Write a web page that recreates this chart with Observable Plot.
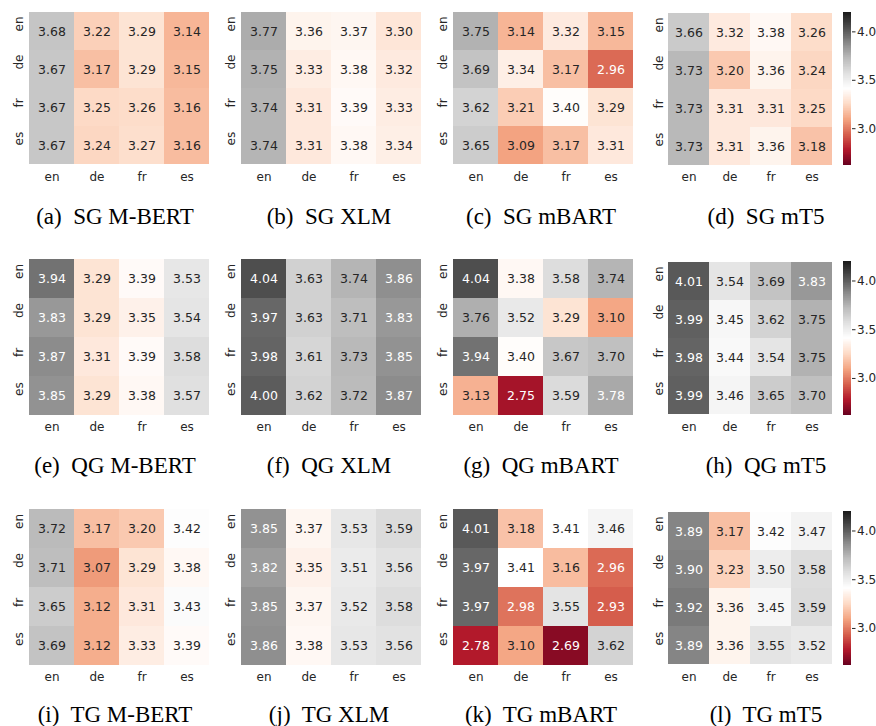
<!DOCTYPE html>
<html>
<head>
<meta charset="utf-8">
<script src="https://cdn.jsdelivr.net/npm/d3@7"></script>
<script src="https://cdn.jsdelivr.net/npm/@observablehq/plot@0.6"></script>
<style>
  html, body { margin: 0; padding: 0; background: #fff; }
  #root { position: relative; width: 876px; height: 726px; overflow: hidden; background: #fff; }
  #root svg { position: absolute; display: block; max-width: none; background: transparent; }
  .cap { position: absolute; font-family: "Liberation Serif", "Times New Roman", serif; font-size: 23px; line-height: 23px; color: #000; white-space: pre; transform: translateX(-50%); }
</style>
</head>
<body>
<div id="root"></div>
<script>
// ---------- data ----------
const langs = ["en", "de", "fr", "es"];        // rows (y) and columns (x)
const tasks = ["SG", "QG", "TG"];
const models = ["M-BERT", "XLM", "mBART", "mT5"];
const letters = ["a","b","c","d","e","f","g","h","i","j","k","l"];
const cbTicks = [3.0, 3.5, 4.0];
const colorDomain = [2.62, 4.20];

const sgMBert = [[3.68,3.22,3.29,3.14],[3.67,3.17,3.29,3.15],[3.67,3.25,3.26,3.16],[3.67,3.24,3.27,3.16]];
const sgXlm   = [[3.77,3.36,3.37,3.30],[3.75,3.33,3.38,3.32],[3.74,3.31,3.39,3.33],[3.74,3.31,3.38,3.34]];
const sgMBart = [[3.75,3.14,3.32,3.15],[3.69,3.34,3.17,2.96],[3.62,3.21,3.40,3.29],[3.65,3.09,3.17,3.31]];
const sgMt5   = [[3.66,3.32,3.38,3.26],[3.73,3.20,3.36,3.24],[3.73,3.31,3.31,3.25],[3.73,3.31,3.36,3.18]];
const qgMBert = [[3.94,3.29,3.39,3.53],[3.83,3.29,3.35,3.54],[3.87,3.31,3.39,3.58],[3.85,3.29,3.38,3.57]];
const qgXlm   = [[4.04,3.63,3.74,3.86],[3.97,3.63,3.71,3.83],[3.98,3.61,3.73,3.85],[4.00,3.62,3.72,3.87]];
const qgMBart = [[4.04,3.38,3.58,3.74],[3.76,3.52,3.29,3.10],[3.94,3.40,3.67,3.70],[3.13,2.75,3.59,3.78]];
const qgMt5   = [[4.01,3.54,3.69,3.83],[3.99,3.45,3.62,3.75],[3.98,3.44,3.54,3.75],[3.99,3.46,3.65,3.70]];
const tgMBert = [[3.72,3.17,3.20,3.42],[3.71,3.07,3.29,3.38],[3.65,3.12,3.31,3.43],[3.69,3.12,3.33,3.39]];
const tgXlm   = [[3.85,3.37,3.53,3.59],[3.82,3.35,3.51,3.56],[3.85,3.37,3.52,3.58],[3.86,3.38,3.53,3.56]];
const tgMBart = [[4.01,3.18,3.41,3.46],[3.97,3.41,3.16,2.96],[3.97,2.98,3.55,2.93],[2.78,3.10,2.69,3.62]];
const tgMt5   = [[3.89,3.17,3.42,3.47],[3.90,3.23,3.50,3.58],[3.92,3.36,3.45,3.59],[3.89,3.36,3.55,3.52]];

const panels = [
  [sgMBert, sgXlm, sgMBart, sgMt5],
  [qgMBert, qgXlm, qgMBart, qgMt5],
  [tgMBert, tgXlm, tgMBart, tgMt5]
];

// ---------- layout ----------
const colLeft = [27, 239, 451, 667];
const colWidth = [183, 183, 183, 166];
const capCenter = [115, 329, 541, 766];
const rowTop = [10, 259, 509];
const rowHeight = [155, 156, 156];
const capBaseline = [224, 473, 722];
const ML = 26, MR = 2, MT = 2, MB = 24;

const colorOpts = {
  type: "linear",
  domain: colorDomain,
  interpolate: d3.piecewise(d3.interpolateRgb, d3.schemeRdGy[11])
};
const colorScale = Plot.scale({color: colorOpts});
function luminance(c) {
  const rgb = d3.rgb(c);
  const f = v => { v /= 255; return v <= 0.03928 ? v / 12.92 : Math.pow((v + 0.055) / 1.055, 2.4); };
  return 0.2126 * f(rgb.r) + 0.7152 * f(rgb.g) + 0.0722 * f(rgb.b);
}
const isDark = v => luminance(colorScale.apply(v)) <= 0.408;

const root = document.getElementById("root");
const font = "DejaVu Sans, sans-serif";

function heatmap(values, w, h) {
  const data = [];
  values.forEach((row, i) => row.forEach((v, j) => data.push({row: langs[i], col: langs[j], v})));
  return Plot.plot({
    width: w + ML + MR, height: h + MT + MB,
    marginLeft: ML, marginRight: MR, marginTop: MT, marginBottom: MB,
    x: {domain: langs, padding: 0, axis: null, label: null},
    y: {domain: langs, padding: 0, axis: null, label: null},
    color: colorOpts,
    style: {fontFamily: font, color: "#262626", background: "transparent"},
    marks: [
      Plot.cell(data, {x: "col", y: "row", fill: "v", shapeRendering: "crispEdges"}),
      Plot.text(data.filter(d => !isDark(d.v)), {x: "col", y: "row", text: d => d.v.toFixed(2), fill: "#262626", fontSize: 12.5}),
      Plot.text(data.filter(d => isDark(d.v)), {x: "col", y: "row", text: d => d.v.toFixed(2), fill: "white", fontSize: 12.5}),
      Plot.axisX({anchor: "bottom", tickSize: 0, tickPadding: 7, fontSize: 12, fill: "#262626", label: null}),
      Plot.text(langs, {y: d => d, text: d => d, frameAnchor: "left", dx: -8.5, rotate: -90, fontSize: 12, fill: "#262626"})
    ]
  });
}

function colorbar(h) {
  const n = 240;
  const step = (colorDomain[1] - colorDomain[0]) / n;
  const stops = d3.range(n).map(i => ({a: colorDomain[0] + i * step, b: colorDomain[0] + (i + 1) * step, v: colorDomain[0] + (i + 0.5) * step}));
  return Plot.plot({
    width: 8 + 34, height: h + MT + MB,
    marginLeft: 0, marginRight: 34, marginTop: MT, marginBottom: MB,
    y: {domain: colorDomain, axis: null, label: null},
    color: colorOpts,
    style: {fontFamily: font, color: "#262626", background: "transparent"},
    marks: [
      Plot.rect(stops, {y1: "a", y2: "b", fill: "v", shapeRendering: "crispEdges"}),
      Plot.axisY({anchor: "right", ticks: cbTicks, tickFormat: ".1f", tickSize: 3.5, tickPadding: 2, fontSize: 12, fill: "#262626", stroke: "#262626", label: null})
    ]
  });
}

panels.forEach((row, r) => {
  row.forEach((vals, c) => {
    const extra = c === 3 ? 2 : 0;
    const h = rowHeight[r] - extra;
    const svg = heatmap(vals, colWidth[c], h);
    svg.style.left = (colLeft[c] - ML) + "px";
    svg.style.top = (rowTop[r] + extra - MT) + "px";
    root.appendChild(svg);
    if (c === 3) {
      const cb = colorbar(h);
      cb.style.left = "843px";
      cb.style.top = (rowTop[r] + extra - MT) + "px";
      root.appendChild(cb);
    }
    const cap = document.createElement("div");
    cap.className = "cap";
    cap.textContent = "(" + letters[r * 4 + c] + ")  " + tasks[r] + " " + models[c];
    cap.style.left = capCenter[c] + "px";
    cap.style.top = (capBaseline[r] - 19.3) + "px";
    root.appendChild(cap);
  });
});
</script>
</body>
</html>
